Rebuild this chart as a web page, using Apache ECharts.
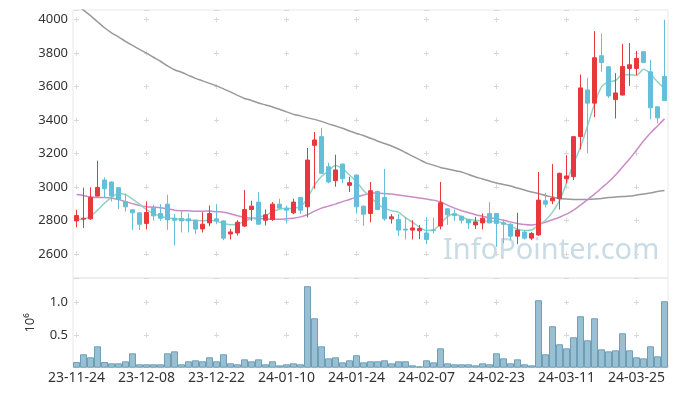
<!DOCTYPE html>
<html>
<head>
<meta charset="utf-8">
<script src="https://cdn.jsdelivr.net/npm/echarts@6/dist/echarts.min.js"></script>
<style>
html,body{margin:0;padding:0;background:#fff;}
#chart{width:677px;height:396px;}
</style>
</head>
<body>
<div id="chart"></div>
<script>
const categories = [
'23-11-24','23-11-27','23-11-28','23-11-29','23-11-30',
'23-12-01','23-12-04','23-12-05','23-12-06','23-12-07','23-12-08',
'23-12-11','23-12-12','23-12-13','23-12-14','23-12-15',
'23-12-18','23-12-19','23-12-20','23-12-21','23-12-22',
'23-12-26','23-12-27','23-12-28',
'24-01-02','24-01-03','24-01-04','24-01-05',
'24-01-08','24-01-09','24-01-10','24-01-11','24-01-12',
'24-01-15','24-01-16','24-01-17','24-01-18','24-01-19',
'24-01-22','24-01-23','24-01-24','24-01-25','24-01-26',
'24-01-29','24-01-30','24-01-31',
'24-02-01','24-02-02','24-02-05','24-02-06','24-02-07','24-02-08',
'24-02-13','24-02-14','24-02-15','24-02-16',
'24-02-19','24-02-20','24-02-21','24-02-22','24-02-23',
'24-02-26','24-02-27','24-02-28','24-02-29',
'24-03-04','24-03-05','24-03-06','24-03-07','24-03-08',
'24-03-11','24-03-12','24-03-13','24-03-14','24-03-15',
'24-03-18','24-03-19','24-03-20','24-03-21','24-03-22',
'24-03-25','24-03-26','24-03-27','24-03-28','24-03-29'
];
const opens = [2799,2810,2811,2947,3043,3031,2997,2913,2865,2847,2784,2880,2843,2899,2815,2813,2811,2803,2751,2787,2811,2799,2721,2727,2768,2867,2911,2803,2808,2899,2875,2847,2939,2883,3250,3302,3122,3039,3138,3011,3073,2887,2843,2975,2939,2811,2808,2750,2744,2740,2727,2745,2768,2871,2841,2827,2808,2775,2787,2843,2843,2787,2779,2708,2732,2696,2715,2919,2919,2931,3051,3063,3302,3581,3502,3785,3719,3523,3550,3709,3709,3809,3689,3480,3661];
const closes = [2831,2815,2939,2999,2991,2947,2927,2883,2847,2779,2849,2829,2815,2805,2803,2799,2799,2750,2779,2843,2799,2696,2733,2791,2867,2887,2779,2835,2899,2875,2863,2911,2863,3162,3282,3083,3031,3103,3051,3027,2883,2839,2979,2867,2811,2823,2744,2744,2757,2753,2688,2741,2907,2835,2831,2803,2787,2793,2815,2787,2784,2779,2708,2744,2696,2724,2923,2899,2935,3083,3067,3302,3593,3502,3773,3745,3545,3563,3721,3731,3769,3745,3474,3414,3517];
const lows = [2760,2757,2805,2945,2939,2915,2870,2855,2745,2745,2748,2800,2800,2745,2652,2730,2730,2720,2730,2767,2779,2684,2688,2712,2763,2799,2779,2772,2799,2873,2784,2839,2840,2820,2991,3080,3023,3003,3023,2971,2843,2770,2791,2863,2800,2783,2710,2688,2688,2690,2660,2724,2748,2775,2799,2783,2751,2751,2748,2785,2644,2665,2684,2660,2688,2684,2710,2879,2899,2867,3023,3043,3226,3202,3418,3689,3533,3410,3549,3605,3669,3740,3406,3382,3515];
const highs = [2865,2997,2999,3158,3059,3035,2999,2963,2867,2850,2915,2895,2899,2955,2840,2863,2843,2805,2851,2891,2899,2802,2751,2803,2983,2919,2971,2867,2911,2931,2891,2931,2941,3234,3330,3354,3146,3194,3140,3062,3075,2890,3031,2979,3110,2839,2840,2823,2803,2775,2820,2818,3031,2875,2867,2829,2810,2823,2843,2911,2845,2808,2785,2847,2744,2732,3091,2967,3138,3087,3190,3302,3673,3653,3932,3918,3721,3681,3856,3861,3813,3809,3761,3482,4000];
const volumes = [0.087,0.205,0.159,0.327,0.087,0.067,0.067,0.098,0.22,0.052,0.052,0.052,0.052,0.22,0.25,0.052,0.098,0.113,0.098,0.159,0.098,0.205,0.067,0.052,0.128,0.098,0.128,0.052,0.098,0.036,0.052,0.067,0.052,1.245,0.755,0.327,0.143,0.159,0.082,0.113,0.19,0.082,0.098,0.098,0.113,0.067,0.098,0.098,0.036,0.021,0.113,0.082,0.296,0.067,0.052,0.052,0.052,0.036,0.067,0.052,0.22,0.143,0.067,0.128,0.052,0.036,1.03,0.205,0.633,0.358,0.296,0.465,0.786,0.419,0.755,0.281,0.25,0.266,0.526,0.266,0.159,0.143,0.327,0.174,1.015];
const ma5 = [2812,2808,2827,2863,2905,2938,2962,2956,2929,2899,2866,2842,2827,2818,2812,2808,2803,2802,2800,2803,2797,2785,2776,2779,2797,2812,2821,2833,2854,2869,2873,2875,2884,2935,3013,3064,3097,3130,3109,3073,3033,2981,2941,2899,2875,2860,2851,2818,2791,2761,2741,2744,2782,2824,2842,2824,2806,2803,2799,2799,2794,2788,2768,2750,2741,2744,2774,2803,2851,2920,3025,3141,3240,3366,3497,3599,3629,3637,3671,3671,3668,3704,3677,3629,3587];
const ma20 = [2956,2950,2941,2938,2938,2936,2926,2914,2902,2890,2884,2881,2878,2872,2863,2860,2859,2857,2857,2858,2854,2851,2842,2830,2821,2814,2812,2811,2809,2809,2812,2815,2823,2836,2857,2875,2887,2899,2914,2927,2941,2953,2965,2965,2962,2959,2953,2947,2941,2935,2929,2923,2913,2893,2875,2860,2848,2836,2827,2818,2811,2803,2793,2784,2777,2774,2780,2791,2806,2821,2839,2863,2893,2926,2959,2995,3031,3073,3121,3168,3222,3276,3324,3366,3408];
const ma60 = [4095,4057,4024,3988,3952,3922,3898,3871,3847,3823,3801,3776,3752,3725,3701,3686,3668,3650,3635,3620,3605,3587,3569,3548,3530,3518,3503,3491,3479,3465,3450,3435,3426,3414,3405,3393,3378,3366,3352,3336,3321,3309,3292,3276,3261,3246,3228,3207,3186,3165,3144,3132,3118,3109,3100,3091,3076,3061,3049,3037,3025,3016,3007,2995,2983,2971,2962,2950,2941,2932,2929,2927,2926,2927,2929,2932,2938,2941,2944,2947,2953,2959,2965,2974,2980];

const candleData = categories.map((_, i) => [opens[i], closes[i], lows[i], highs[i]]);

const chart = echarts.init(document.getElementById('chart'), null, {renderer: 'canvas'});
const FONT = 'Noto Sans';
const crossColor = '#d9d9d9';
chart.setOption({
  animation: false,
  backgroundColor: '#ffffff',
  textStyle: {fontFamily: FONT},
  graphic: [{
    type: 'text', left: 443, top: 236, silent: true, z: 0,
    style: {text: 'InfoPointer.com', fill: 'rgba(165,195,212,0.6)', font: '29px "Noto Sans"'}
  }],
  grid: [
    {left: 73, right: 9, top: 10, height: 268, show: true, borderColor: '#e8e8e8', borderWidth: 1},
    {left: 73, right: 9, top: 278, height: 89.7, show: true, borderColor: '#e8e8e8', borderWidth: 1}
  ],
  xAxis: [
    {type: 'category', gridIndex: 0, data: categories, boundaryGap: true,
     axisLine: {show: false}, axisTick: {show: false}, axisLabel: {show: false, interval: 9},
     splitLine: {show: true, interval: 9, alignWithLabel: true,
       lineStyle: {color: crossColor, width: 1, type: [5, 28.43], dashOffset: 26.2}}},
    {type: 'category', gridIndex: 1, data: categories, boundaryGap: true,
     axisLine: {show: false}, axisTick: {show: false},
     axisLabel: {show: true, interval: 9, color: '#333', fontSize: 14, margin: 3, fontFamily: FONT},
     splitLine: {show: true, interval: 9, alignWithLabel: true,
       lineStyle: {color: crossColor, width: 1, type: [5, 27.7], dashOffset: 10.9}}}
  ],
  yAxis: [
    {type: 'value', gridIndex: 0, min: 2458, max: 4058, splitNumber: 8, scale: true,
     axisLine: {show: false}, axisTick: {show: false},
     axisLabel: {color: '#333', fontSize: 13, margin: 5, showMinLabel: false, showMaxLabel: false, fontFamily: FONT,
       formatter: v => String(v)},
     splitLine: {show: true, lineStyle: {color: crossColor, width: 1, type: [5, 65], dashOffset: 69}}},
    {type: 'value', gridIndex: 1, min: 0, max: 1.37, interval: 0.5,
     name: '10\u2076', nameLocation: 'middle', nameGap: 36, nameRotate: 90,
     nameTextStyle: {color: '#333', fontSize: 13, fontFamily: FONT},
     axisLine: {show: false}, axisTick: {show: false},
     axisLabel: {color: '#333', fontSize: 13, margin: 5, showMinLabel: false, showMaxLabel: false, fontFamily: FONT,
       formatter: v => v.toFixed(1)},
     splitLine: {show: true, lineStyle: {color: crossColor, width: 1, type: [5, 65], dashOffset: 69}}}
  ],
  series: [
    {name: 'MA60', type: 'line', xAxisIndex: 0, yAxisIndex: 0, data: ma60, symbol: 'none', smooth: 0.3,
     lineStyle: {color: '#999999', width: 1.5}, z: 2},
    {name: 'MA20', type: 'line', xAxisIndex: 0, yAxisIndex: 0, data: ma20, symbol: 'none', smooth: 0.3,
     lineStyle: {color: '#c98cc6', width: 1.5}, z: 2},
    {name: 'MA5', type: 'line', xAxisIndex: 0, yAxisIndex: 0, data: ma5, symbol: 'none', smooth: 0.3,
     lineStyle: {color: '#92d2c6', width: 1.5}, z: 2},
    {name: 'price', type: 'candlestick', xAxisIndex: 0, yAxisIndex: 0, data: candleData, barWidth: '62%',
     itemStyle: {color: '#e8383d', color0: '#65bfd8', borderColor: '#e8383d', borderColor0: '#65bfd8', borderWidth: 1}, z: 3},
    {name: 'volume', type: 'bar', xAxisIndex: 1, yAxisIndex: 1, data: volumes, barWidth: '100%',
     itemStyle: {color: '#99c0d2', borderColor: '#6e9fb8', borderWidth: 1}}
  ]
});
</script>
</body>
</html>
